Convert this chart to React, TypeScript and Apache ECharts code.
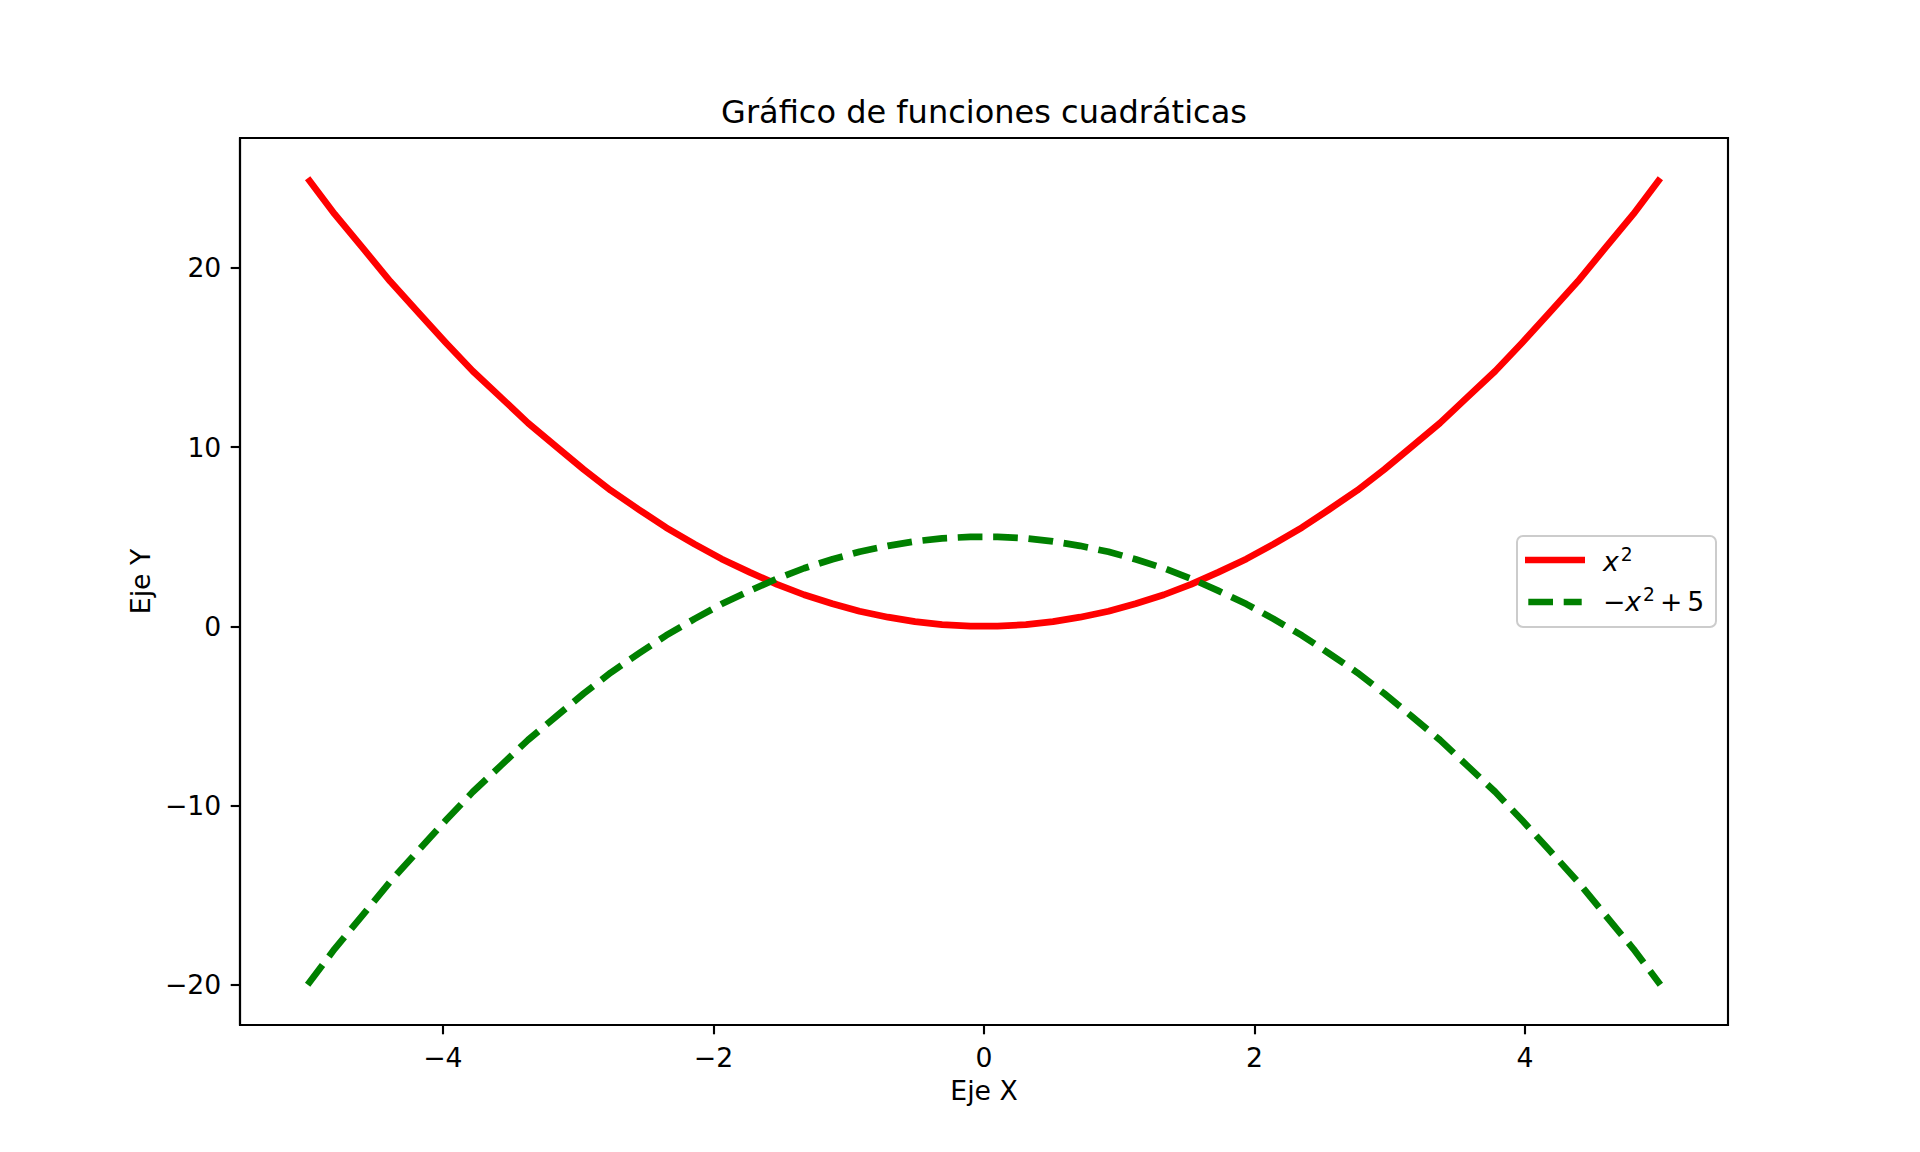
import React, { useEffect, useRef } from "react";
import * as echarts from "echarts";

const xValues = [
  -5.0, -4.8, -4.59, -4.39, -4.18, -3.98, -3.78, -3.57, -3.37, -3.16,
  -2.96, -2.76, -2.55, -2.35, -2.14, -1.94, -1.73, -1.53, -1.33, -1.12,
  -0.92, -0.71, -0.51, -0.31, -0.1, 0.1, 0.31, 0.51, 0.71, 0.92,
  1.12, 1.33, 1.53, 1.73, 1.94, 2.14, 2.35, 2.55, 2.76, 2.96,
  3.16, 3.37, 3.57, 3.78, 3.98, 4.18, 4.39, 4.59, 4.8, 5.0,
];

const squareValues = [
  25.0, 23.0, 21.09, 19.25, 17.5, 15.84, 14.25, 12.76, 11.34, 10.01,
  8.76, 7.59, 6.51, 5.51, 4.59, 3.76, 3.01, 2.34, 1.76, 1.26,
  0.84, 0.51, 0.26, 0.09, 0.01, 0.01, 0.09, 0.26, 0.51, 0.84,
  1.26, 1.76, 2.34, 3.01, 3.76, 4.59, 5.51, 6.51, 7.59, 8.76,
  10.01, 11.34, 12.76, 14.25, 15.84, 17.5, 19.25, 21.09, 23.0, 25.0,
];

const invertedValues = [
  -20.0, -18.0, -16.09, -14.25, -12.5, -10.84, -9.25, -7.76, -6.34, -5.01,
  -3.76, -2.59, -1.51, -0.51, 0.41, 1.24, 1.99, 2.66, 3.24, 3.74,
  4.16, 4.49, 4.74, 4.91, 4.99, 4.99, 4.91, 4.74, 4.49, 4.16,
  3.74, 3.24, 2.66, 1.99, 1.24, 0.41, -0.51, -1.51, -2.59, -3.76,
  -5.01, -6.34, -7.76, -9.25, -10.84, -12.5, -14.25, -16.09, -18.0, -20.0,
];

const xTicks = [-4, -2, 0, 2, 4];
const yTicks = [-20, -10, 0, 10, 20];

const titleText = "Gráfico de funciones cuadráticas";
const xAxisName = "Eje X";
const yAxisName = "Eje Y";
const seriesNames = ["x²", "−x² + 5"];
const seriesColors = ["#ff0000", "#008000"];

const FONT = "DejaVu Sans";
const fmt = (v: number) => (v < 0 ? "\u2212" + Math.abs(v) : String(v));

export default function App() {
  const ref = useRef<HTMLDivElement>(null);

  useEffect(() => {
    if (!ref.current) return;
    const chart = echarts.init(ref.current, undefined, { renderer: "svg" });
    const pairs = (ys: number[]) => xValues.map((x, i) => [x, ys[i]]);
    const lw = 6.67;
    const rich = {
      it: { fontFamily: FONT, fontStyle: "italic", fontSize: 26.67, fill: "#000", color: "#000" },
      n: { fontFamily: FONT, fontSize: 26.67, fill: "#000", color: "#000" },
      op: { fontFamily: FONT, fontSize: 26.67, fill: "#000", color: "#000", padding: [0, 5, 0, 5] },
      sup: { fontFamily: FONT, fontSize: 18.7, fill: "#000", color: "#000", padding: [0, 0, 14, 2] },
    };
    const legendGraphic = {
      type: "group",
      children: [
        {
          type: "rect",
          shape: { x: 1517, y: 536, width: 199, height: 91, r: 6 },
          style: { fill: "rgba(255,255,255,0.8)", stroke: "#cccccc", lineWidth: 2 },
          z: 10,
        },
        {
          type: "line",
          shape: { x1: 1525, y1: 560, x2: 1585, y2: 560 },
          style: { stroke: seriesColors[0], lineWidth: lw, lineCap: "butt" },
          z: 11,
        },
        {
          type: "line",
          shape: { x1: 1528.3, y1: 602, x2: 1581.7, y2: 602 },
          style: { stroke: seriesColors[1], lineWidth: lw, lineCap: "butt", lineDash: [24.7, 10.7] },
          z: 11,
        },
        {
          type: "text",
          x: 1603,
          y: 561,
          style: {
            text: "{it|x}{sup|2}",
            rich,
            verticalAlign: "middle",
            align: "left",
            fontFamily: FONT,
            fontSize: 26.67,
            fill: "#000",
          },
          z: 11,
        },
        {
          type: "text",
          x: 1603,
          y: 601,
          style: {
            text: "{n|\u2212}{it|x}{sup|2}{op|+}{n|5}",
            rich,
            verticalAlign: "middle",
            align: "left",
            fontFamily: FONT,
            fontSize: 26.67,
            fill: "#000",
          },
          z: 11,
        },
      ],
    };
    const axisCommon = {
      type: "value",
      nameLocation: "middle",
      nameTextStyle: { fontFamily: FONT, fontSize: 26.67, color: "#000" },
      axisLine: { show: true, onZero: false, lineStyle: { color: "#000", width: 2.13 } },
      splitLine: { show: false },
    };
    chart.setOption({
      animation: false,
      backgroundColor: "#ffffff",
      textStyle: { fontFamily: FONT },
      title: {
        text: titleText,
        left: 979,
        top: 91,
        textAlign: "center",
        textStyle: { fontFamily: FONT, fontSize: 32, fontWeight: "normal", color: "#000" },
      },
      grid: {
        left: 240,
        right: 192,
        top: 138,
        bottom: 127,
        show: true,
        borderColor: "#000",
        borderWidth: 2.13,
        backgroundColor: "transparent",
      },
      xAxis: {
        ...axisCommon,
        min: -5.5,
        max: 5.5,
        name: xAxisName,
        nameGap: 52,
        axisTick: { show: true, inside: false, length: 9.3, customValues: xTicks, lineStyle: { color: "#000", width: 2.13 } },
        axisLabel: {
          customValues: xTicks,
          formatter: fmt,
          margin: 18.7,
          fontFamily: FONT,
          fontSize: 26.67,
          color: "#000",
        },
      },
      yAxis: {
        ...axisCommon,
        min: -22.25,
        max: 27.25,
        name: yAxisName,
        nameRotate: 90,
        nameGap: 86,
        axisTick: { show: true, inside: false, length: 9.3, customValues: yTicks, lineStyle: { color: "#000", width: 2.13 } },
        axisLabel: {
          customValues: yTicks,
          formatter: fmt,
          margin: 18.7,
          fontFamily: FONT,
          fontSize: 26.67,
          color: "#000",
        },
      },
      graphic: [legendGraphic],
      series: [
        {
          name: seriesNames[0],
          type: "line",
          data: pairs(squareValues),
          showSymbol: false,
          symbol: "none",
          color: seriesColors[0],
          lineStyle: { color: seriesColors[0], width: lw, cap: "butt", join: "round" },
        },
        {
          name: seriesNames[1],
          type: "line",
          data: pairs(invertedValues),
          showSymbol: false,
          symbol: "none",
          color: seriesColors[1],
          lineStyle: { color: seriesColors[1], width: lw, type: [24.7, 10.7], cap: "butt", join: "round" },
        },
      ],
    });
    return () => chart.dispose();
  }, []);

  return (
    <div
      ref={ref}
      style={{ position: "fixed", left: 0, top: 0, width: 1920, height: 1152, background: "#fff" }}
    />
  );
}
